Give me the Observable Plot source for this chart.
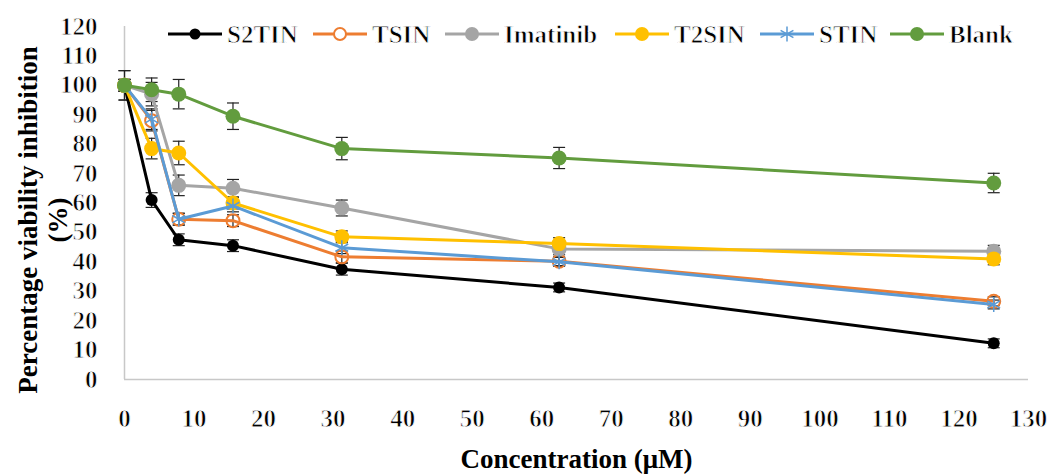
<!DOCTYPE html>
<html><head><meta charset="utf-8">
<script src="https://cdn.jsdelivr.net/npm/d3@7"></script>
<script src="https://cdn.jsdelivr.net/npm/@observablehq/plot@0.6"></script>
<style>
body{margin:0;background:#fff;}
#wrap{position:relative;width:1050px;height:475px;overflow:hidden;}
#legend{position:absolute;top:0;left:0;width:1050px;height:60px;}
.item{position:absolute;top:19px;}
/* only the bold serif face is installed: thin it with a white outline to read as regular */
.thin{font-weight:700;stroke:#fff;stroke-width:0.8px;stroke-linejoin:round;}
.viab [aria-label$="tick label"] text{font-weight:700;stroke:#fff;stroke-width:0.8px;stroke-linejoin:round;}
</style></head><body><div id="wrap"><div id="chart"></div><div id="legend"></div></div>
<script>
// ---- data ----
const concentrations = [0, 3.9, 7.8, 15.6, 31.25, 62.5, 125];
const seriesNames = ["S2TIN", "TSIN", "Imatinib", "T2SIN", "STIN", "Blank"];
const s2tin    = [100, 61, 47.5, 45.5, 37.5, 31.3, 12.3];
const tsin     = [100, 88, 54.5, 54, 41.7, 40.2, 26.6];
const imatinib = [100, 97, 66, 65, 58.3, 44.4, 43.6];
const t2sin    = [100, 78.5, 77, 60, 48.5, 46.2, 41];
const stin     = [100, 88.5, 54.5, 59, 44.8, 40, 25.5];
const blank    = [100, 98.5, 97, 89.5, 78.5, 75.3, 66.8];
const errS2tin    = [5, 2.5, 2, 2, 2, 1.5, 1.5];
const errTsin     = [2, 3.5, 2, 2, 2, 1.5, 1.5];
const errImatinib = [2, 4, 3.5, 3, 2.7, 2, 2];
const errT2sin    = [2, 3.5, 4, 2, 2, 2, 2];
const errStin     = [2, 3.5, 2, 2, 2, 1.5, 1.5];
const errBlank    = [5, 4, 5, 4.5, 3.8, 3.6, 3.3];
const xTicks = [0,10,20,30,40,50,60,70,80,90,100,110,120,130];
const yTicks = [0,10,20,30,40,50,60,70,80,90,100,110,120];
const colors = ["#000000", "#ED7D31", "#A5A5A5", "#FFC000", "#5B9BD5", "#629C3E"];

const values = [s2tin, tsin, imatinib, t2sin, stin, blank];
const errors = [errS2tin, errTsin, errImatinib, errT2sin, errStin, errBlank];
const rows = [];
seriesNames.forEach((name, i) => concentrations.forEach((c, j) =>
  rows.push({series: name, x: c, y: values[i][j], err: errors[i][j]})));

const serif = "Liberation Serif, serif";
const cap = {draw(ctx, size) { ctx.moveTo(-6, 0); ctx.lineTo(6, 0); }};

const markerStyle = {
  S2TIN:    {symbol: "circle", r: 6, fill: colors[0]},
  TSIN:     {symbol: "circle", r: 6.5, fill: "none", stroke: colors[1], strokeWidth: 2},
  Imatinib: {symbol: "circle", r: 7.5, fill: colors[2]},
  T2SIN:    {symbol: "circle", r: 7.5, fill: colors[3]},
  STIN:     {symbol: "asterisk", r: 7, fill: "none", stroke: colors[4], strokeWidth: 1.5},
  Blank:    {symbol: "circle", r: 7.5, fill: colors[5]}
};

const marks = [
  Plot.ruleX([0], {stroke: "#C8C8C8", strokeWidth: 1.5}),
  Plot.ruleY([0], {stroke: "#C8C8C8", strokeWidth: 1.5}),
  Plot.axisX({ticks: xTicks, tickSize: 0, tickPadding: 30, label: null}),
  Plot.axisY({ticks: yTicks, tickSize: 0, tickPadding: 27, label: null}),
  Plot.ruleX(rows, {x: "x", y1: d => d.y - d.err, y2: d => d.y + d.err, stroke: "#222", strokeWidth: 1.2}),
  Plot.dot(rows, {x: "x", y: d => d.y + d.err, symbol: cap, fill: "none", stroke: "#222", strokeWidth: 1.2}),
  Plot.dot(rows, {x: "x", y: d => d.y - d.err, symbol: cap, fill: "none", stroke: "#222", strokeWidth: 1.2})
];
seriesNames.forEach((name, i) => {
  const data = rows.filter(d => d.series === name);
  marks.push(Plot.line(data, {x: "x", y: "y", stroke: colors[i], strokeWidth: 3}));
  marks.push(Plot.dot(data, {x: "x", y: "y", ...markerStyle[name]}));
});
marks.push(Plot.text(["Concentration (μM)"], {text: d => d, frameAnchor: "bottom", dy: 80, lineAnchor: "middle", fontWeight: "bold", fontSize: 27}));
marks.push(Plot.text(["Percentage viability inhibition\n(%)"], {text: d => d, frameAnchor: "left", rotate: -90, textAnchor: "middle", lineAnchor: "middle", dx: -82, dy: 17, lineHeight: 1.1, fontWeight: "bold", fontSize: 27}));

const chart = Plot.plot({
  width: 1050, height: 475,
  marginLeft: 124, marginRight: 22, marginTop: 26, marginBottom: 96,
  className: "viab",
  x: {domain: [0, 130]},
  y: {domain: [0, 120]},
  style: {fontFamily: serif, fontSize: "25px", color: "#000", background: "#fff", overflow: "visible"},
  marks
});
document.getElementById("chart").appendChild(chart);

// legend: each entry is a small SVG (line, marker, label)
const legendLeft = [168, 313, 445, 615, 760, 890];
const leg = document.getElementById("legend");
const ns = "http://www.w3.org/2000/svg";
seriesNames.forEach((name, i) => {
  const svg = document.createElementNS(ns, "svg");
  svg.setAttribute("class", "item");
  svg.style.left = legendLeft[i] + "px";
  svg.setAttribute("width", 158); svg.setAttribute("height", 30);
  const line = document.createElementNS(ns, "line");
  line.setAttribute("x1", 0); line.setAttribute("x2", 54); line.setAttribute("y1", 15); line.setAttribute("y2", 15);
  line.setAttribute("stroke", colors[i]); line.setAttribute("stroke-width", 3);
  svg.appendChild(line);
  const st = markerStyle[name];
  if (st.symbol === "asterisk") {
    const p = document.createElementNS(ns, "path");
    p.setAttribute("d", d3.symbol(d3.symbolAsterisk, Math.PI * 49)());
    p.setAttribute("transform", "translate(27,15)");
    p.setAttribute("stroke", colors[i]); p.setAttribute("stroke-width", 1.5); p.setAttribute("fill", "none");
    svg.appendChild(p);
  } else {
    const c = document.createElementNS(ns, "circle");
    c.setAttribute("cx", 27); c.setAttribute("cy", 15); c.setAttribute("r", st.r - 0.5);
    if (st.fill === "none") {
      c.setAttribute("fill", "#fff"); c.setAttribute("stroke", colors[i]); c.setAttribute("stroke-width", 2);
    } else c.setAttribute("fill", colors[i]);
    svg.appendChild(c);
  }
  const t = document.createElementNS(ns, "text");
  t.setAttribute("x", 59); t.setAttribute("y", 15); t.setAttribute("dy", "0.34em");
  t.setAttribute("class", "thin");
  t.setAttribute("font-family", serif); t.setAttribute("font-size", 25); t.setAttribute("fill", "#000");
  t.textContent = name;
  svg.appendChild(t);
  leg.appendChild(svg);
});
</script></body></html>
